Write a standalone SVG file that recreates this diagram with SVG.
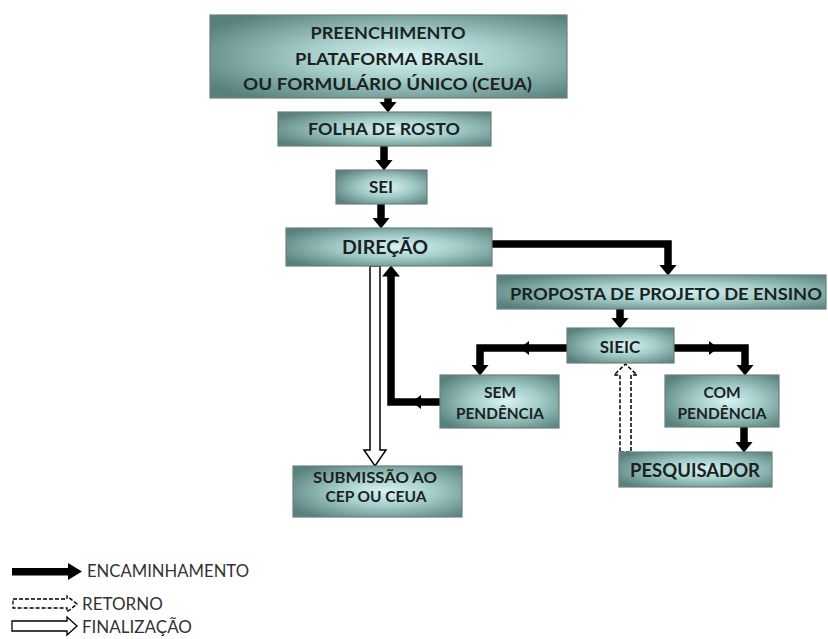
<svg xmlns="http://www.w3.org/2000/svg" width="828" height="639" viewBox="0 0 828 639">
<defs>
<radialGradient id="g" cx="55%" cy="50%" r="65%">
<stop offset="0" stop-color="#d8f3f2"/>
<stop offset="0.45" stop-color="#a3ccc9"/>
<stop offset="1" stop-color="#58817e"/>
</radialGradient>
<marker id="ah" viewBox="0 -10 12 20" refX="0.5" refY="0" markerWidth="12" markerHeight="20" markerUnits="userSpaceOnUse" orient="auto">
<path d="M0,-9 L11,0 L0,9 z" fill="#000"/>
</marker>
<style>
.box{fill:url(#g);stroke:#6f7f7e;stroke-width:1.2}
.t{font-family:Lato,"Open Sans","Liberation Sans",sans-serif;font-weight:bold;fill:#1a2323;text-anchor:middle}
.c{fill:none;stroke:#000;stroke-width:7.5;stroke-linejoin:miter}
.lg{font-family:Lato,"Open Sans","Liberation Sans",sans-serif;font-size:17px;fill:#333}
</style>
</defs>
<rect width="828" height="639" fill="#fff"/>

<g id="connectors">
<line class="c" x1="388" y1="98" x2="388" y2="102" marker-end="url(#ah)"/>
<line class="c" x1="384" y1="146" x2="384" y2="160" marker-end="url(#ah)"/>
<line class="c" x1="381" y1="204" x2="381" y2="218" marker-end="url(#ah)"/>
<path class="c" d="M492,244 H668 V265" marker-end="url(#ah)"/>
<line class="c" x1="620" y1="309" x2="620" y2="318" marker-end="url(#ah)"/>
<path class="c" d="M567,348 H480 V365" marker-end="url(#ah)"/>
<polygon points="520,348 529,341 529,355" fill="#000"/>
<path class="c" d="M674,348 H745 V365" marker-end="url(#ah)"/>
<polygon points="718,348 709,341 709,355" fill="#000"/>
<line class="c" x1="744" y1="427" x2="744" y2="442" marker-end="url(#ah)"/>
<path class="c" d="M440,402 H391 V276" marker-end="url(#ah)"/>
<polygon points="412,402 421,395 421,409" fill="#000"/>
<polygon points="370,266 380,266 380,450 386,450 375,466 364,450 370,450" fill="#fff" stroke="#000" stroke-width="1.5"/>
<polygon points="620,452 631,452 631,375 637,375 625.5,364 614,375 620,375" fill="#fff" stroke="#000" stroke-width="1.5" stroke-dasharray="4,2"/>
</g>

<g id="n-preenchimento">
<rect class="box" x="210" y="15" width="357" height="83"/>
<text class="t" font-size="17" x="388" y="38.5" textLength="155" lengthAdjust="spacingAndGlyphs">PREENCHIMENTO</text>
<text class="t" font-size="17" x="389" y="64.5" textLength="188" lengthAdjust="spacingAndGlyphs">PLATAFORMA BRASIL</text>
<text class="t" font-size="17" x="387.5" y="90" textLength="289" lengthAdjust="spacingAndGlyphs">OU FORMULÁRIO ÚNICO (CEUA)</text>
</g>

<g id="n-folha">
<rect class="box" x="278" y="112" width="213" height="34"/>
<text class="t" font-size="17" x="384" y="135" textLength="152" lengthAdjust="spacingAndGlyphs">FOLHA DE ROSTO</text>
</g>

<g id="n-sei">
<rect class="box" x="336" y="170" width="91" height="34"/>
<text class="t" font-size="17" x="381" y="193">SEI</text>
</g>

<g id="n-direcao">
<rect class="box" x="286" y="228" width="206" height="38"/>
<text class="t" font-size="19" x="385" y="254" textLength="86" lengthAdjust="spacingAndGlyphs">DIREÇÃO</text>
</g>

<g id="n-proposta">
<rect class="box" x="497" y="275" width="329" height="34"/>
<text class="t" font-size="17" x="666" y="300" textLength="312" lengthAdjust="spacingAndGlyphs">PROPOSTA DE PROJETO DE ENSINO</text>
</g>

<g id="n-sieic">
<rect class="box" x="567" y="328" width="107" height="35"/>
<text class="t" font-size="17" x="620" y="353">SIEIC</text>
</g>

<g id="n-sem">
<rect class="box" x="440" y="375" width="119" height="53"/>
<text class="t" font-size="15.5" x="500" y="398">SEM</text>
<text class="t" font-size="15.5" x="500" y="419" textLength="88" lengthAdjust="spacingAndGlyphs">PENDÊNCIA</text>
</g>

<g id="n-com">
<rect class="box" x="665" y="375" width="114" height="52"/>
<text class="t" font-size="15.5" x="722" y="398">COM</text>
<text class="t" font-size="15.5" x="722" y="419" textLength="89" lengthAdjust="spacingAndGlyphs">PENDÊNCIA</text>
</g>

<g id="n-pesquisador">
<rect class="box" x="619" y="452" width="153" height="35"/>
<text class="t" font-size="18.5" x="695" y="477" textLength="130" lengthAdjust="spacingAndGlyphs">PESQUISADOR</text>
</g>

<g id="n-submissao">
<rect class="box" x="293" y="466" width="169" height="51"/>
<text class="t" font-size="15.5" x="375" y="483" textLength="124" lengthAdjust="spacingAndGlyphs">SUBMISSÃO AO</text>
<text class="t" font-size="15.5" x="376" y="502">CEP OU CEUA</text>
</g>

<g id="legend">
<rect x="12" y="568" width="56" height="7.5" fill="#000"/>
<polygon points="68,563 82,571.5 68,580" fill="#000"/>
<text class="lg" x="87" y="577" textLength="162" lengthAdjust="spacingAndGlyphs">ENCAMINHAMENTO</text>
<polygon points="13,599 67,599 67,596 77,604 67,612 67,608 13,608" fill="#fff" stroke="#000" stroke-width="1.3" stroke-dasharray="4,2"/>
<text class="lg" x="82" y="610">RETORNO</text>
<polygon points="12,621 67,621 67,617 77,626 67,635 67,631 12,631" fill="#fff" stroke="#000" stroke-width="1.3"/>
<text class="lg" x="82" y="633">FINALIZAÇÃO</text>
</g>
</svg>
